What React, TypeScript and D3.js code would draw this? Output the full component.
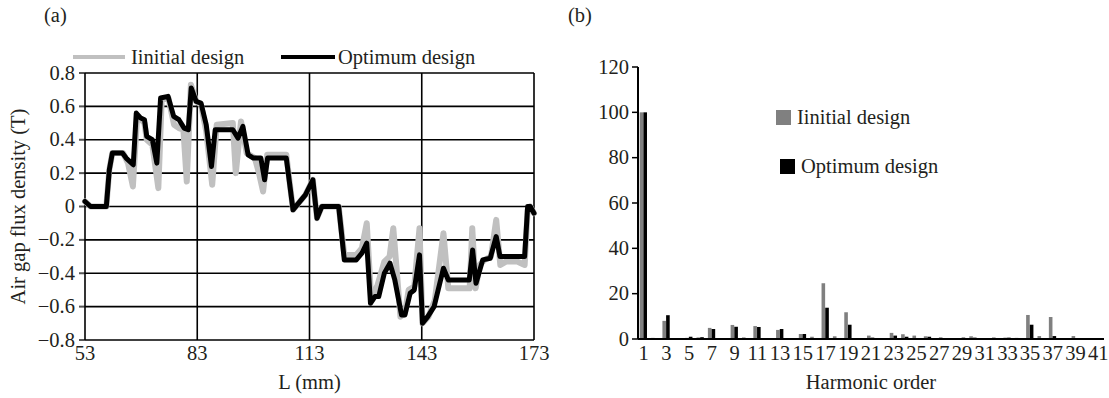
import React from 'react';
import * as d3 from 'd3';

// ---------- Panel (a): air gap flux density ----------
const initialL = [53.0, 54.5, 58.7, 59.5, 60.3, 63.2, 64.5, 65.8, 66.9, 68.0, 68.9, 69.5, 71.0, 72.6, 73.5, 75.3, 76.8, 78.1, 79.3, 80.2, 81.3, 82.7, 84.0, 85.4, 87.0, 88.2, 92.5, 93.3, 94.7, 96.2, 98.4, 99.5, 100.6, 101.7, 106.8, 108.6, 111.9, 113.9, 115.0, 116.3, 120.8, 122.3, 125.5, 127.0, 128.3, 129.5, 131.2, 133.0, 134.4, 135.4, 137.3, 138.5, 139.5, 141.0, 142.4, 143.2, 144.8, 146.5, 148.8, 150.1, 155.8, 156.5, 157.4, 158.5, 159.8, 161.5, 162.9, 164.0, 165.5, 167.0, 168.5, 170.5, 171.3, 172.0, 173.0];
const initialB = [0.03, 0.0, 0.0, 0.22, 0.32, 0.32, 0.26, 0.12, 0.53, 0.52, 0.5, 0.4, 0.37, 0.11, 0.64, 0.65, 0.49, 0.47, 0.46, 0.15, 0.73, 0.63, 0.61, 0.45, 0.13, 0.49, 0.5, 0.2, 0.51, 0.32, 0.29, 0.2, 0.09, 0.31, 0.31, -0.02, 0.07, 0.16, -0.07, 0.0, 0.0, -0.29, -0.29, -0.25, -0.1, -0.56, -0.47, -0.33, -0.3, -0.13, -0.66, -0.64, -0.5, -0.48, -0.13, -0.7, -0.66, -0.56, -0.16, -0.49, -0.49, -0.13, -0.49, -0.35, -0.32, -0.3, -0.08, -0.35, -0.33, -0.33, -0.33, -0.35, -0.02, 0.0, -0.04];

const optimumL = [53.0, 54.5, 58.7, 59.5, 60.3, 63.0, 64.0, 65.9, 66.7, 67.9, 68.9, 69.5, 71.0, 72.2, 73.2, 75.2, 76.7, 78.1, 79.5, 80.6, 81.4, 82.7, 84.0, 85.4, 86.8, 87.8, 92.5, 93.9, 95.2, 96.6, 98.0, 100.0, 101.0, 101.8, 106.8, 108.6, 111.9, 113.9, 115.0, 116.3, 120.8, 122.3, 125.5, 127.0, 128.3, 129.3, 130.5, 131.5, 133.0, 134.5, 135.8, 137.6, 138.5, 139.9, 141.0, 142.4, 143.2, 144.6, 146.3, 148.8, 150.1, 155.7, 156.6, 157.5, 158.4, 159.3, 161.3, 162.9, 163.9, 170.5, 171.3, 172.0, 173.0];
const optimumB = [0.03, 0.0, 0.0, 0.22, 0.32, 0.32, 0.29, 0.25, 0.56, 0.53, 0.52, 0.42, 0.4, 0.26, 0.65, 0.66, 0.54, 0.52, 0.47, 0.46, 0.71, 0.63, 0.62, 0.49, 0.24, 0.46, 0.46, 0.41, 0.48, 0.31, 0.29, 0.29, 0.16, 0.29, 0.29, -0.02, 0.07, 0.16, -0.07, 0.0, 0.0, -0.32, -0.32, -0.28, -0.22, -0.58, -0.54, -0.54, -0.4, -0.34, -0.44, -0.65, -0.65, -0.52, -0.5, -0.29, -0.7, -0.66, -0.6, -0.37, -0.44, -0.44, -0.26, -0.46, -0.39, -0.32, -0.31, -0.18, -0.3, -0.3, 0.0, 0.0, -0.04];

const xTicksA = [53, 83, 113, 143, 173];
const yTicksA = [0.8, 0.6, 0.4, 0.2, 0, -0.2, -0.4, -0.6, -0.8];

// ---------- Panel (b): harmonic spectrum ----------
const harmonics = d3.range(1, 42);
const initialHarm = [100, 0.5, 8, 0.3, 0.5, 0.7, 4.9, 0.3, 6.2, 0.7, 5.7, 0.4, 4.0, 0.2, 2.2, 1.0, 24.6, 1.2, 11.8, 0.4, 1.5, 0.4, 2.7, 2.1, 1.5, 1.2, 0.4, 0.4, 0.3, 1.2, 0.3, 0.7, 0.6, 0.5, 10.6, 1.3, 9.7, 0.4, 1.3, 0.4, 0.4];
const optimumHarm = [100, 0.3, 10.5, 0.2, 1.0, 0.8, 4.4, 0.2, 5.4, 0.1, 5.3, 0.4, 4.4, 0.1, 2.2, 0.2, 13.8, 0.2, 6.3, 0.1, 0.6, 0.1, 1.5, 1.0, 0.4, 1.0, 0.6, 0.1, 0.6, 0.6, 0.1, 0.2, 0.6, 0.1, 6.3, 0.2, 1.3, 0.1, 0.2, 0.1, 0.1];
const yTicksB = [0, 20, 40, 60, 80, 100, 120];

const FONT = '"Liberation Serif", "Times New Roman", serif';
const GRAY_LINE = '#c0c0c0';
const GRAY_BAR = '#808080';
const TXT = '#231f20';

export default function App() {
  const W = 1109, H = 398;
  const ax = d3.scaleLinear().domain([53, 173]).range([85, 534]);
  const ay = d3.scaleLinear().domain([-0.8, 0.8]).range([340, 73]);
  const mk = (Ls: number[], Bs: number[]) =>
    d3.line<number>().x((d) => ax(d)).y((_, i) => ay(Bs[i]))(Ls) || '';
  const initialPath = mk(initialL, initialB);
  const optimumPath = mk(optimumL, optimumB);

  const bx = d3.scaleBand<number>().domain(harmonics).range([638, 1104]).padding(0);
  const by = d3.scaleLinear().domain([0, 120]).range([339, 67]);
  const bw = bx.bandwidth();
  const fmt = (v: number) => (v === 0 ? '0' : (v < 0 ? '\u2212' : '') + Math.abs(v).toFixed(1));
  const FS = 20.5;

  return (
    <svg width={W} height={H} style={{ position: 'absolute', left: 0, top: 0, background: '#fff' }} fontFamily={FONT}>
      <rect x={0} y={0} width={W} height={H} fill="#fff" />
      {/* ---------- Panel (a) ---------- */}
      <text x={44} y={22} fontSize={FS} fill={TXT}>(a)</text>
      <line x1={73} x2={125} y1={57} y2={57} stroke={GRAY_LINE} strokeWidth={4} />
      <text x={131} y={64} fontSize={FS} fill={TXT}>Iinitial design</text>
      <line x1={281} x2={335} y1={57} y2={57} stroke="#000" strokeWidth={4} />
      <text x={338} y={64} fontSize={FS} fill={TXT}>Optimum design</text>
      {yTicksA.map((t) => (
        <g key={'ya' + t}>
          <line x1={ax(53)} x2={ax(173)} y1={ay(t)} y2={ay(t)} stroke="#000" strokeWidth={1.6} />
          <line x1={ax(53) - 6} x2={ax(53)} y1={ay(t)} y2={ay(t)} stroke="#555" strokeWidth={2} />
          <text x={ax(53) - 10} y={ay(t) + 6.5} fontSize={FS} textAnchor="end" fill={TXT}>{fmt(t)}</text>
        </g>
      ))}
      {xTicksA.map((t) => (
        <g key={'xa' + t}>
          <line x1={ax(t)} x2={ax(t)} y1={ay(0.8)} y2={ay(-0.8)} stroke="#000" strokeWidth={1.6} />
          <text x={ax(t)} y={360} fontSize={FS} textAnchor="middle" fill={TXT}>{t}</text>
        </g>
      ))}
      <text x={(ax(53) + ax(173)) / 2} y={389} fontSize={FS} textAnchor="middle" fill={TXT}>L (mm)</text>
      <text transform={`translate(25,${ay(0)}) rotate(-90)`} fontSize={FS} textAnchor="middle" fill={TXT}>Air gap flux density (T)</text>
      <path d={initialPath} fill="none" stroke={GRAY_LINE} strokeWidth={6} strokeLinejoin="round" strokeLinecap="round" />
      <path d={optimumPath} fill="none" stroke="#000" strokeWidth={5} strokeLinejoin="round" strokeLinecap="round" />

      {/* ---------- Panel (b) ---------- */}
      <text x={568} y={22} fontSize={FS} fill={TXT}>(b)</text>
      {yTicksB.map((t) => (
        <g key={'yb' + t}>
          <line x1={632} x2={638} y1={by(t)} y2={by(t)} stroke="#000" strokeWidth={1.5} />
          <text x={629} y={by(t) + 6.5} fontSize={FS} textAnchor="end" fill={TXT}>{t}</text>
        </g>
      ))}
      {harmonics.map((h, i) => {
        const c = (bx(h) as number) + bw / 2;
        return (
          <g key={'h' + h}>
            <rect x={c - 4} y={by(initialHarm[i])} width={3.6} height={by(0) - by(initialHarm[i])} fill={GRAY_BAR} />
            <rect x={c - 0.3} y={by(optimumHarm[i])} width={3.6} height={by(0) - by(optimumHarm[i])} fill="#000" />
          </g>
        );
      })}
      <line x1={638} x2={638} y1={by(120)} y2={by(0)} stroke="#000" strokeWidth={2} />
      <line x1={638} x2={1104} y1={by(0)} y2={by(0)} stroke="#000" strokeWidth={2.2} />
      {harmonics.filter((h) => h % 2 === 1).map((h) => (
        <text key={'xl' + h} x={(bx(h) as number) + bw / 2} y={360} fontSize={FS} textAnchor="middle" fill={TXT}>{h}</text>
      ))}
      <text x={871} y={389} fontSize={FS} textAnchor="middle" fill={TXT}>Harmonic order</text>
      <rect x={776} y={110} width={15} height={15} fill={GRAY_BAR} />
      <text x={797} y={124} fontSize={FS} fill={TXT}>Iinitial design</text>
      <rect x={780} y={159} width={15} height={15} fill="#000" />
      <text x={801} y={173} fontSize={FS} fill={TXT}>Optimum design</text>
    </svg>
  );
}
